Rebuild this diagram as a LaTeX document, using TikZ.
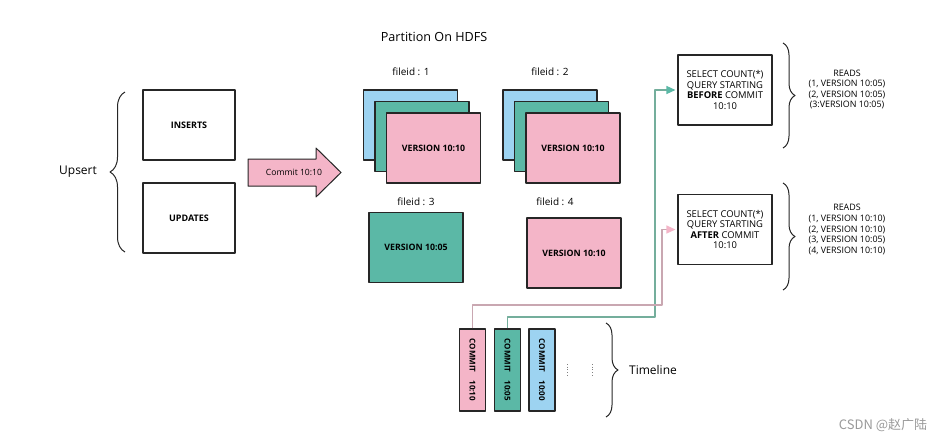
\documentclass[tikz,border=0pt]{standalone}
\usepackage{fontspec}
\setmainfont{Open Sans}
\newfontfamily\cjkfont{Noto Sans CJK SC}
\usepackage{tikz}
\usetikzlibrary{arrows.meta,decorations.pathreplacing}
\definecolor{fileblue}{HTML}{9DD3F1}
\definecolor{filegreen}{HTML}{5BB8A6}
\definecolor{filepink}{HTML}{F4B5C8}
\definecolor{linkpink}{HTML}{C9A7B1}
\definecolor{linkgreen}{HTML}{74AE9C}
\definecolor{edge9}{HTML}{262626}

\begin{document}
\begin{tikzpicture}
  [x=1pt, y=-1pt, line join=round,
   box/.style={draw=edge9, line width=1.1pt, minimum width=92pt, minimum height=70pt, inner sep=0pt, align=center},
   filebox/.style={box, minimum width=94pt, font=\fontsize{8.8}{10}\selectfont\bfseries},
   commitbox/.style={box, minimum width=26pt, minimum height=82pt, font=\fontsize{8}{9}\selectfont\bfseries},
   querybox/.style={box, minimum width=94pt, font=\fontsize{9.4}{10.5}\selectfont},
   reads/.style={align=center, font=\fontsize{8.9}{10.6}\selectfont},
   bigtext/.style={font=\fontsize{12}{14}\selectfont},
   fileid/.style={font=\fontsize{10}{12}\selectfont},
   bracer/.style={draw=edge9, line width=1pt, decorate, decoration={brace, amplitude=#1}},
   link/.style={line width=1.3pt, shorten >=2pt}]

  \useasboundingbox (0,0) rectangle (948,445);

  %Upsert side
  \node[bigtext] (upsert) at (78,172) {Upsert};
  \draw[bracer=15pt] (125,252) -- (125,92);
  \node[box, font=\fontsize{9}{10}\selectfont\bfseries] (inserts) at (189,125) {INSERTS};
  \node[box, font=\fontsize{9}{10}\selectfont\bfseries] (updates) at (189,218) {UPDATES};
  \draw[draw=edge9, line width=1pt, fill=filepink] (248,159) -- (316,159) -- (316,148) -- (341,172.5)
    -- (316,197) -- (316,186) -- (248,186) -- cycle;
  \node[font=\fontsize{8.6}{10}\selectfont] (commit) at (294,172.5) {Commit 10:10};

  %Partition with four files
  \node[font=\fontsize{12.6}{14}\selectfont] (hdfs) at (434,37) {Partition On HDFS};
  \node[fileid] (id1) at (411,72) {fileid : 1};
  \node[fileid] (id2) at (550,72) {fileid : 2};
  \node[fileid] (id3) at (416,202) {fileid : 3};
  \node[fileid] (id4) at (555,202) {fileid : 4};
  \foreach \f/\x in {1/410.5, 2/550} {
    \node[filebox, fill=fileblue]  (F\f_a) at (\x,125) {};
    \node[filebox, fill=filegreen] (F\f_b) at (\x+11.5,136.5) {};
    \node[filebox, fill=filepink]  (F\f_c) at (\x+23,148) {VERSION 10:10};
  }
  \node[filebox, fill=filegreen] (F3) at (416,247.5) {VERSION 10:05};
  \node[filebox, fill=filepink]  (F4) at (574,253) {VERSION 10:10};

  %Queries and what they read
  \node[querybox] (before) at (725,90) {SELECT COUNT(*)\\QUERY STARTING\\\textbf{BEFORE} COMMIT\\10:10};
  \node[querybox] (after) at (725,229.5) {SELECT COUNT(*)\\QUERY STARTING\\\textbf{AFTER} COMMIT\\10:10};
  \draw[bracer=12pt] (783,43) -- (783,148);
  \draw[bracer=12pt] (783,183) -- (783,290);
  \node[reads] (reads1) at (847,89.5) {READS\\(1, VERSION 10:05)\\(2, VERSION 10:05)\\(3:VERSION 10:05)};
  \node[reads] (reads2) at (847,229.5) {READS\\(1, VERSION 10:10)\\(2, VERSION 10:10)\\(3, VERSION 10:05)\\(4, VERSION 10:10)};

  %Timeline
  \node[commitbox, fill=filepink]  (C1) at (472.5,370) {\rotatebox{-90}{COMMIT\quad 10:10}};
  \node[commitbox, fill=filegreen] (C2) at (507.5,370) {\rotatebox{-90}{COMMIT\quad 10:05}};
  \node[commitbox, fill=fileblue]  (C3) at (542,370)   {\rotatebox{-90}{COMMIT\quad 10:00}};
  \foreach \x in {567,592}
    \draw[gray, line width=0.9pt, dash pattern=on 0.9pt off 1.8pt] (\x,364) -- (\x,377);
  \draw[bracer=12pt] (606,323) -- (606,417);
  \node[bigtext] (timeline) at (653,370) {Timeline};

  %Commits feeding the queries
  \coordinate (gbend) at (655,317);
  \coordinate (pbend) at (662,305);
  \draw[link, linkgreen, -{Triangle[length=9pt,width=8pt,color=filegreen]}] (C2.north) |- (gbend) |- (before.west);
  \draw[link, linkpink, -{Triangle[length=9pt,width=8pt,color=filepink]}] (C1.north) |- (pbend) |- (after.west);

  \node[text=gray!80, font=\cjkfont\fontsize{13}{15}\selectfont] (mark) at (883,425) {CSDN @赵广陆};
\end{tikzpicture}
\end{document}
